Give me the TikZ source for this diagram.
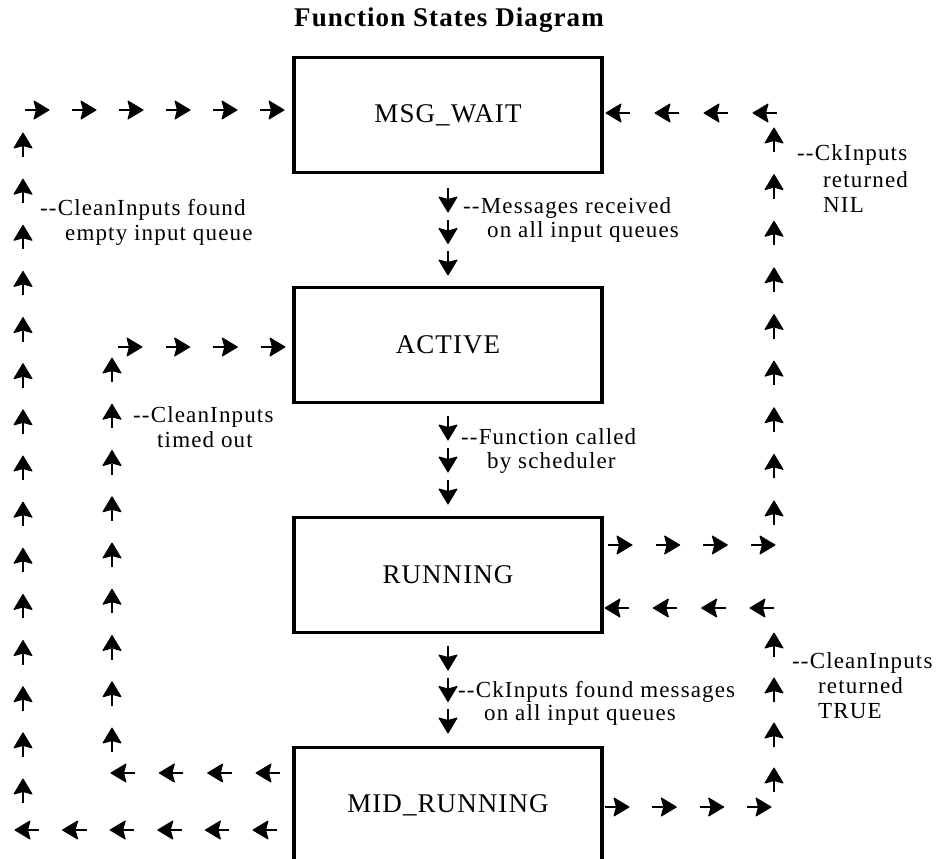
\documentclass[tikz,border=0pt]{standalone}
\usepackage{fontspec}
\setmainfont{Liberation Serif}
\newfontfamily\titlefont[LetterSpace=4]{Liberation Serif}
\newfontfamily\notefont[LetterSpace=5]{Liberation Serif}
\newfontfamily\statefont[LetterSpace=4]{Liberation Serif}
\usetikzlibrary{calc}

\tikzset{
  x=1pt, y=1pt,
  state/.style={draw, line width=3.4pt, minimum width=308pt, minimum height=115pt,
    inner sep=0pt, font=\statefont\fontsize{27}{30}\selectfont},
  note/.style={anchor=base west, inner sep=0pt, font=\notefont\fontsize{23}{26}\selectfont},
  heading/.style={anchor=base, inner sep=0pt, font=\titlefont\bfseries\fontsize{27}{31}\selectfont},
  % one arrow glyph: short stem and a filled, swept-back head
  flowglyph/.pic={
    \draw[line width=2.6pt] (-12,0) -- (-1,0);
    \filldraw[line width=1pt, line join=round] (12,0) -- (-3,9) -- (-0.5,0) -- (-3,-9) -- cycle;
  }
}

% a dotted connector: #3 arrow glyphs from (#1) to (#2), pointing at angle #4
\newcommand\flowrun[4]{%
  \foreach \k in {1,...,#3}{%
    \pic[rotate=#4] at ($(#1)!{(\k-1)/(#3-1)}!(#2)$) {flowglyph};
  }%
}

\begin{document}
\begin{tikzpicture}
\useasboundingbox (0,0) rectangle (942,-859);
\fill[white] (0,0) rectangle (942,-859);
\clip (0,0) rectangle (942,-859);

% title
\node[heading] (title) at (449,-27) {Function States Diagram};

% states
\node[state] (msg) at (448,-115) {MSG\_WAIT};
\node[state] (act) at (448,-345) {ACTIVE};
\node[state] (run) at (448,-575) {RUNNING};
\node[state] (mid) at (448,-805) {MID\_RUNNING};

% run end points
\coordinate (c1a) at (448,-200); \coordinate (c1b) at (448,-263);
\coordinate (c2a) at (448,-428); \coordinate (c2b) at (448,-492);
\coordinate (c3a) at (448,-658); \coordinate (c3b) at (448,-721);

\coordinate (oa) at (265,-830); \coordinate (ob) at (27,-830);
\coordinate (oc) at (23,-791);  \coordinate (od) at (23,-145);
\coordinate (oe) at (37,-110);  \coordinate (of) at (272,-110);

\coordinate (ia) at (268,-773); \coordinate (ib) at (123,-773);
\coordinate (ic) at (112,-740); \coordinate (id) at (112,-370);
\coordinate (ie) at (130,-347); \coordinate (if) at (273,-347);

\coordinate (ua) at (620,-545); \coordinate (ub) at (763,-545);
\coordinate (uc) at (774,-513); \coordinate (ud) at (774,-140);
\coordinate (ue) at (765,-113); \coordinate (uf) at (618,-113);

\coordinate (la) at (617,-807); \coordinate (lb) at (759,-807);
\coordinate (lc) at (774,-780); \coordinate (ld) at (774,-645);
\coordinate (le) at (762,-608); \coordinate (lf) at (617,-608);

% MSG_WAIT -> ACTIVE -> RUNNING -> MID_RUNNING
\flowrun{c1a}{c1b}{3}{270}
\flowrun{c2a}{c2b}{3}{270}
\flowrun{c3a}{c3b}{3}{270}

% MID_RUNNING -> MSG_WAIT (outer left loop)
\flowrun{oa}{ob}{6}{180}
\flowrun{oc}{od}{15}{90}
\flowrun{oe}{of}{6}{0}

% MID_RUNNING -> ACTIVE (inner left loop)
\flowrun{ia}{ib}{4}{180}
\flowrun{ic}{id}{9}{90}
\flowrun{ie}{if}{4}{0}

% RUNNING -> MSG_WAIT (upper right loop)
\flowrun{ua}{ub}{4}{0}
\flowrun{uc}{ud}{9}{90}
\flowrun{ue}{uf}{4}{180}

% MID_RUNNING -> RUNNING (lower right loop)
\flowrun{la}{lb}{4}{0}
\flowrun{lc}{ld}{4}{90}
\flowrun{le}{lf}{4}{180}

% transition notes
\node[note] (n1a) at (463,-213) {-{}-Messages received};
\node[note] (n1b) at (487,-237) {on all input queues};
\node[note] (n2a) at (461,-444) {-{}-Function called};
\node[note] (n2b) at (487,-468) {by scheduler};
\node[note] (n3a) at (458,-697) {-{}-CkInputs found messages};
\node[note] (n3b) at (484,-720) {on all input queues};
\node[note] (n4a) at (40,-215) {-{}-CleanInputs found};
\node[note] (n4b) at (65,-240) {empty input queue};
\node[note] (n5a) at (133,-422) {-{}-CleanInputs};
\node[note] (n5b) at (157,-447) {timed out};
\node[note] (n6a) at (797,-160) {-{}-CkInputs};
\node[note] (n6b) at (823,-187) {returned};
\node[note] (n6c) at (823,-212) {NIL};
\node[note] (n7a) at (792,-668) {-{}-CleanInputs};
\node[note] (n7b) at (818,-693) {returned};
\node[note] (n7c) at (818,-718) {TRUE};
\end{tikzpicture}
\end{document}
